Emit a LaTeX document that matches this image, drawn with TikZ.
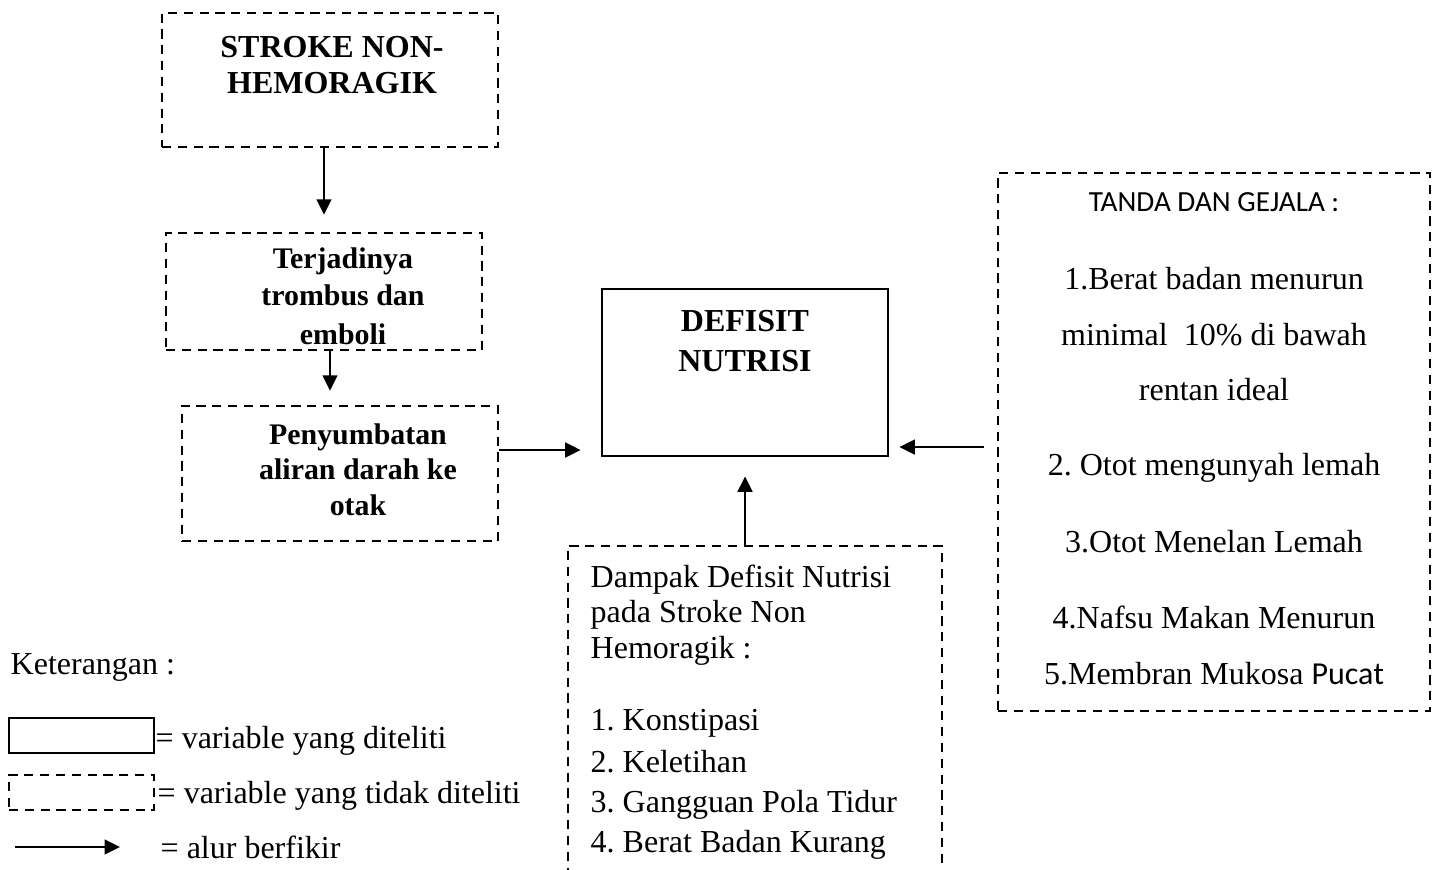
\documentclass[tikz,border=0pt]{standalone}
\usepackage{fontspec}
\setmainfont{Liberation Serif}
\newfontfamily\calibri{Carlito}
\frenchspacing
\usetikzlibrary{arrows.meta}
\tikzset{>=latex}
\tikzstyle{dbox}=[draw,line width=0.7pt,dash pattern=on 2.6pt off 1.9pt,inner sep=0pt]
\tikzstyle{sbox}=[draw,line width=0.75pt,inner sep=0pt]
\tikzstyle{flow}=[line width=0.65pt,-{Triangle[length=4.4pt,width=4.2pt]}]
\tikzstyle{boldtxt}=[font=\fontsize{9.1}{10}\selectfont\bfseries,anchor=base,inner sep=0pt]
\tikzstyle{plaintxt}=[font=\fontsize{9.1}{10}\selectfont,anchor=base,inner sep=0pt]

\begin{document}
\begin{tikzpicture}[x=0.01cm,y=-0.01cm]

  \useasboundingbox (0,0) rectangle (1437,869);
  \clip (0,0) rectangle (1437,869);

  % boxes
  \node[dbox,minimum width=3.36cm,minimum height=1.34cm] (stroke) at (330,80) {};
  \node[dbox,minimum width=3.16cm,minimum height=1.17cm] (terj) at (324,291.5) {};
  \node[dbox,minimum width=3.16cm,minimum height=1.35cm] (peny) at (340,473.5) {};
  \node[sbox,minimum width=2.86cm,minimum height=1.67cm] (defisit) at (745,372.5) {};
  \node[dbox,minimum width=4.32cm,minimum height=5.38cm] (tanda) at (1214,442) {};
  \node[dbox,minimum width=3.74cm,minimum height=3.54cm] (dampak) at (755,723) {};

  % box texts
  \node[boldtxt] (stroke1) at (332,57) {STROKE NON-};
  \node[boldtxt] (stroke2) at (332,93) {HEMORAGIK};
  \foreach \ty/\tx [count=\i] in {268/Terjadinya,305/trombus dan,344/emboli}
    \node[boldtxt,font=\fontsize{8.5}{10}\selectfont\bfseries] (terj\i) at (343,\ty) {\tx};
  \foreach \ty/\tx [count=\i] in {444/Penyumbatan,479/aliran darah ke,515/otak}
    \node[boldtxt,font=\fontsize{8.5}{10}\selectfont\bfseries] (peny\i) at (358,\ty) {\tx};
  \node[boldtxt] (defisit1) at (745,331) {DEFISIT};
  \node[boldtxt] (defisit2) at (745,371) {NUTRISI};

  \node[plaintxt,font=\fontsize{8.3}{10}\selectfont\calibri] (tanda0) at (1214,211) {TANDA DAN GEJALA :};
  \foreach \ty/\tx [count=\i] in {289/1.Berat badan menurun,
      345/{minimal\ \ 10\% di bawah},400/rentan ideal,475/2. Otot mengunyah lemah,
      552/3.Otot Menelan Lemah,628/4.Nafsu Makan Menurun,
      684/{5.Membran Mukosa {\calibri Pucat}}}
    \node[plaintxt] (tanda\i) at (1214,\ty) {\tx};

  \foreach \ty/\tx [count=\i] in {587/Dampak Defisit Nutrisi,622/pada Stroke Non,
      658/Hemoragik :,730/1. Konstipasi,772/2. Keletihan,
      812/3. Gangguan Pola Tidur,852/4. Berat Badan Kurang}
    \node[plaintxt,anchor=base west] (dampak\i) at (590,\ty) {\tx};

  % arrows
  \draw[flow,shorten >=0.17cm] (stroke.south -| terj.north) -- (terj.north);
  \draw[flow,shorten >=0.14cm] ([xshift=0.06cm]terj.south) -- ([xshift=0.06cm]terj.south |- peny.north);
  \draw[flow,shorten >=0.2cm] ([yshift=0.235cm]peny.east) -- ([yshift=0.235cm]peny.east -| defisit.west);
  \draw[flow,shorten >=0.19cm] (defisit.south |- dampak.north) -- (defisit.south);
  \draw[flow,shorten <=0.13cm,shorten >=0.1cm] ([yshift=-0.05cm]tanda.west) -- ([yshift=-0.05cm]tanda.west -| defisit.east);

  % legend
  \node[plaintxt,anchor=base west] (ket) at (10,674) {Keterangan :};
  \node[sbox,minimum width=1.45cm,minimum height=0.35cm] (legsolid) at (81.5,735.5) {};
  \node[dbox,minimum width=1.45cm,minimum height=0.35cm] (legdash) at (81.5,792.5) {};
  \coordinate (legfrom) at (15,847);
  \coordinate (legto) at (120,847);
  \draw[flow] (legfrom) -- (legto);
  \node[plaintxt,anchor=base west] (legsolidtxt) at (155,748) {= variable yang diteliti};
  \node[plaintxt,anchor=base west] (legdashtxt) at (157,803) {= variable yang tidak diteliti};
  \node[plaintxt,anchor=base west] (legflowtxt) at (160,858) {= alur berfikir};

\end{tikzpicture}
\end{document}
